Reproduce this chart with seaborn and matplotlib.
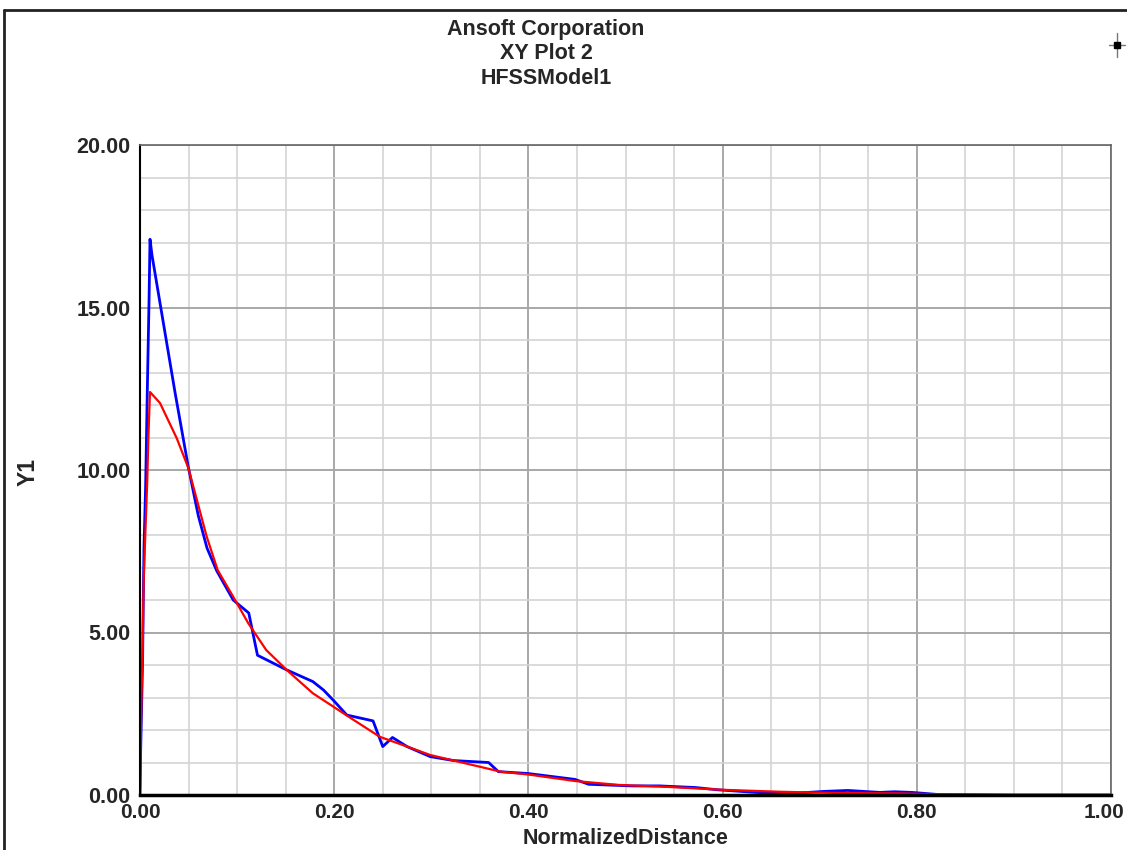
import numpy as np
import pandas as pd
import matplotlib
matplotlib.use('Agg')
import matplotlib.pyplot as plt
import matplotlib.transforms as mtransforms
import seaborn as sns
from matplotlib.lines import Line2D
from matplotlib.ticker import MultipleLocator, FormatStrFormatter

# data
blue_x = [0.0, 0.0007, 0.0017, 0.0027, 0.0034, 0.0041, 0.0058, 0.0075, 0.0093, 0.0103,
          0.0124, 0.036, 0.0497, 0.060, 0.069, 0.079, 0.096, 0.112, 0.121, 0.151,
          0.178, 0.189, 0.199, 0.213, 0.240, 0.250, 0.260, 0.275, 0.299, 0.323,
          0.359, 0.369, 0.40, 0.448, 0.462, 0.506, 0.535, 0.572, 0.595, 0.634,
          0.667, 0.704, 0.729, 0.762, 0.777, 0.795, 0.824, 0.9, 1.0]
blue_y = [0.0, 1.4, 2.8, 4.2, 6.0, 7.6, 9.5, 12.4, 15.2, 17.1,
          16.6, 12.4, 10.1, 8.6, 7.6, 6.9, 6.0, 5.6, 4.3, 3.85,
          3.49, 3.23, 2.92, 2.46, 2.28, 1.49, 1.77, 1.49, 1.18, 1.06,
          1.0, 0.72, 0.66, 0.48, 0.33, 0.28, 0.28, 0.23, 0.16, 0.08,
          0.04, 0.11, 0.14, 0.08, 0.10, 0.08, 0.01, 0.0, 0.0]

red_x = [0.0, 0.0007, 0.0017, 0.0027, 0.0034, 0.0041, 0.0058, 0.0075, 0.0086, 0.0103,
         0.0206, 0.0378, 0.0498, 0.0687, 0.080, 0.096, 0.1116, 0.130, 0.151, 0.178,
         0.199, 0.220, 0.247, 0.275, 0.299, 0.323, 0.350, 0.371, 0.40, 0.448,
         0.493, 0.543, 0.60, 0.659, 0.721, 0.783, 0.824, 0.9, 1.0]
red_y = [0.0, 1.6, 3.2, 4.3, 6.0, 6.9, 8.3, 9.7, 11.0, 12.4,
         12.06, 10.98, 10.06, 7.95, 6.92, 6.1, 5.28, 4.46, 3.85, 3.13,
         2.72, 2.31, 1.79, 1.49, 1.23, 1.06, 0.87, 0.72, 0.63, 0.43,
         0.31, 0.25, 0.16, 0.10, 0.06, 0.05, 0.02, 0.0, 0.0]

x_ticks = [0.0, 0.2, 0.4, 0.6, 0.8, 1.0]
y_ticks = [0, 5, 10, 15, 20]
title_lines = ['Ansoft Corporation', 'XY Plot 2', 'HFSSModel1']

sns.set_style('white')
plt.rcParams['font.family'] = ['Liberation Sans', 'DejaVu Sans']

fig = plt.figure(figsize=(11.27, 8.5), dpi=100)
ax = fig.add_axes([140 / 1127, 1 - 795 / 850, 971 / 1127, 650 / 850])

sns.lineplot(x=blue_x, y=blue_y, color='#0000ff', lw=2.0, estimator=None, ax=ax)
sns.lineplot(x=red_x, y=red_y, color='#ff0000', lw=1.6, estimator=None, ax=ax)

# grid: light minor lines, darker major lines
ax.set_xlim(0, 1)
ax.set_ylim(0, 20)
ax.set_xticks(x_ticks, labels=[f'{v:.2f}' for v in x_ticks])
ax.set_yticks(y_ticks, labels=[f'{v:.2f}' for v in y_ticks])
ax.xaxis.set_minor_locator(MultipleLocator(0.05))
ax.yaxis.set_minor_locator(MultipleLocator(1))
ax.grid(which='minor', color='#d4d4d4', lw=1.2)
ax.grid(which='major', color='#a8a8a8', lw=1.4)
ax.set_axisbelow(True)

ax.tick_params(which='both', direction='out', color='#444444', width=1.2)
ax.tick_params(which='major', length=7)
ax.tick_params(which='minor', length=6)
ax.tick_params(axis='x', which='major', pad=-1, labelsize=15)
ax.tick_params(axis='y', which='major', pad=0, labelsize=15.5)
for lbl in ax.get_xticklabels() + ax.get_yticklabels():
    lbl.set_fontweight('bold')

# the last x label sits at the right window edge; pull it in a little so it stays whole
last = ax.get_xticklabels()[-1]
last.set_transform(last.get_transform() +
                   mtransforms.ScaledTranslation(-0.07, 0, fig.dpi_scale_trans))

ax.spines['left'].set_color('black')
ax.spines['left'].set_linewidth(1.5)
ax.spines['bottom'].set_color('black')
ax.spines['bottom'].set_linewidth(2.5)
ax.spines['top'].set_color('#666666')
ax.spines['top'].set_linewidth(1.2)
ax.spines['right'].set_color('#666666')
ax.spines['right'].set_linewidth(1.2)

ax.set_xlabel('NormalizedDistance', fontsize=15.5, fontweight='bold')
ax.xaxis.set_label_coords(0.5, -(839 - 795) / 650)
ax.xaxis.label.set_va('center')
ax.set_ylabel('Y1', fontsize=16.5, fontweight='bold')
ax.yaxis.set_label_coords(-(140 - 28) / 971, (795 - 472) / 650)
ax.yaxis.label.set_va('center')

# title block
for i, t in enumerate(title_lines):
    fig.text(546 / 1127, 1 - (29 + 24.5 * i) / 850, t, ha='center', va='center',
             fontsize=15.5, fontweight='bold')

# outer frame of the report window
fig.add_artist(Line2D([4 / 1127, 4 / 1127], [0, 1 - 10 / 850], color='#222222', lw=2))
fig.add_artist(Line2D([4 / 1127, 1], [1 - 10 / 850, 1 - 10 / 850], color='#222222', lw=2))

# small crosshair marker at top right
cx, cy = 1117 / 1127, 1 - 45 / 850
fig.add_artist(Line2D([cx - 8 / 1127, cx + 8 / 1127], [cy, cy], color='#777777', lw=1))
fig.add_artist(Line2D([cx, cx], [cy - 12 / 850, cy + 12 / 850], color='#777777', lw=1))
fig.add_artist(Line2D([cx], [cy], marker='s', ms=5, color='black'))

fig.savefig('out.png', dpi=100)
